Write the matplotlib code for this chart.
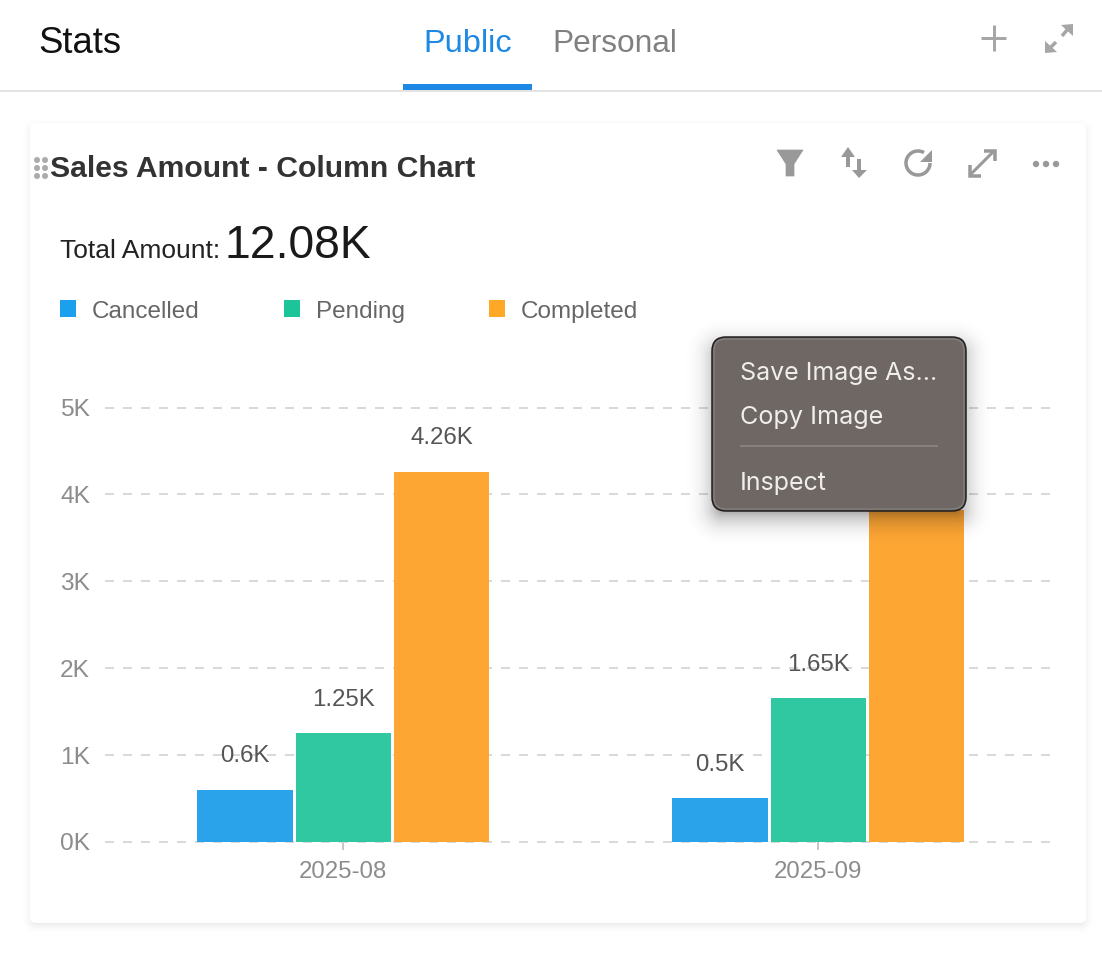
import matplotlib
matplotlib.use("Agg")
import matplotlib.pyplot as plt
import numpy as np
from matplotlib.patches import FancyBboxPatch, Polygon, Circle, Rectangle, Arc, Patch
from matplotlib.transforms import ScaledTranslation

months = ["2025-08", "2025-09"]
cancelled = [0.6, 0.5]
pending = [1.25, 1.65]
completed = [4.26, 3.82]
series_names = ["Cancelled", "Pending", "Completed"]
y_ticks = [0, 1, 2, 3, 4, 5]
y_labels = ["0K", "1K", "2K", "3K", "4K", "5K"]
bar_colors = ["#2AA3EA", "#2FC8A0", "#FDA634"]
legend_colors = ["#1AA0EC", "#1CC49A", "#FFA726"]

W, H = 1102, 954
PX = 0.72
FONT = "Liberation Sans"
plt.rcParams["font.family"] = [FONT, "DejaVu Sans"]

fig = plt.figure(figsize=(W / 100, H / 100), dpi=100, facecolor="white")


def overlay(z):
    a = fig.add_axes([0, 0, 1, 1], zorder=z)
    a.set_xlim(0, W)
    a.set_ylim(H, 0)
    a.axis("off")
    a.patch.set_alpha(0)
    return a


def rbox(a, x0, y0, x1, y1, r, **kw):
    p = FancyBboxPatch((x0, y0), x1 - x0, y1 - y0,
                       boxstyle=f"round,pad=0,rounding_size={r}", **kw)
    a.add_patch(p)
    return p


def shadow(a, x0, y0, x1, y1, inset, spread, dy, alpha):
    # soft drop shadow: alpha falls off with distance from an inset box
    bx0, bx1, by0, by1 = x0 + inset, x1 - inset, y0 + inset + dy, y1 - inset + dy
    ex0, ex1 = bx0 - spread, bx1 + spread
    ey0, ey1 = by0 - spread, by1 + spread
    xs = np.arange(ex0, ex1) + 0.5
    ys = np.arange(ey0, ey1) + 0.5
    gx, gy = np.meshgrid(xs, ys)
    dxx = np.maximum(np.maximum(bx0 - gx, gx - bx1), 0)
    dyy = np.maximum(np.maximum(by0 - gy, gy - by1), 0)
    d = np.hypot(dxx, dyy)
    img = np.zeros(d.shape + (4,))
    img[..., 3] = alpha * np.clip(1 - d / spread, 0, 1) ** 3
    a.imshow(img, extent=(ex0, ex1, ey1, ey0), aspect="auto", interpolation="bilinear")
    a.set_xlim(0, W)
    a.set_ylim(H, 0)


def line(a, xs, ys, lw, color, cap="butt"):
    a.plot(xs, ys, color=color, lw=lw * PX, solid_capstyle=cap, solid_joinstyle="miter")


def txt(a, x, y, s, px, color, weight="normal", family=FONT, ha="left", va="baseline"):
    a.text(x, y, s, fontsize=px * PX, color=color, fontweight=weight,
           family=family, ha=ha, va=va)


bg = overlay(0)
# header
txt(bg, 38, 53, "Stats", 36.5, "#111111")
txt(bg, 423, 52, "Public", 32.5, "#1E88E5")
txt(bg, 552, 52, "Personal", 31.7, "#808080")
line(bg, [0, W], [91.5, 91.5], 2, "#E3E3E3")
bg.add_patch(Rectangle((403, 85), 129, 6, facecolor="#1E88E5", edgecolor="none"))
# header icons
ICON_A = "#A6A6A6"
line(bg, [981, 1006], [39, 39], 3, ICON_A)
line(bg, [993.5, 993.5], [26, 52], 3, ICON_A)
bg.add_patch(Polygon([(1073, 25), (1073, 37), (1061, 26)], facecolor=ICON_A, edgecolor="none"))
line(bg, [1067, 1062], [31, 37], 3.5, ICON_A)
bg.add_patch(Polygon([(1045, 54), (1045, 42), (1057, 53)], facecolor=ICON_A, edgecolor="none"))
line(bg, [1051, 1056], [48, 43], 3.5, ICON_A)

# card
shadow(bg, 30, 124, 1086, 924, 6, 20, 3, 0.13)
rbox(bg, 30, 124, 1086, 924, 6, facecolor="white", edgecolor="none", zorder=3)

# grip dots
for gx in (37, 45):
    for gy in (161, 169, 177):
        bg.add_patch(Circle((gx, gy), 3, facecolor="#ABABAB", edgecolor="none", zorder=4))

txt(bg, 50, 177, "Sales Amount - Column Chart", 30.1, "#333333", weight="bold")
txt(bg, 60, 258, "Total Amount:", 26.4, "#222222")
txt(bg, 224, 258, "12.08K", 46.3, "#1A1A1A")

# card icons
ICON = "#999999"
Z = 4
bg.add_patch(Polygon([(777, 151), (803, 151), (794, 165), (794, 177), (786, 177), (786, 165)],
                     facecolor=ICON, edgecolor=ICON, lw=0.5, joinstyle="round", zorder=Z))
bg.add_patch(Polygon([(848, 148), (855, 158), (841, 158)], facecolor=ICON, edgecolor="none", zorder=Z))
bg.plot([848, 848], [157, 168], color=ICON, lw=4 * PX, solid_capstyle="butt", zorder=Z)
bg.add_patch(Polygon([(859, 179), (852, 171), (867, 171)], facecolor=ICON, edgecolor="none", zorder=Z))
bg.plot([859, 859], [160, 172], color=ICON, lw=4 * PX, solid_capstyle="butt", zorder=Z)
bg.add_patch(Arc((918, 164), 24, 24, theta1=0, theta2=300, lw=3.5 * PX, color=ICON, zorder=Z))
bg.add_patch(Polygon([(932, 151), (932, 163), (920, 163)], facecolor=ICON, edgecolor="none", zorder=Z))
bg.plot([971, 994], [175, 152], color=ICON, lw=3 * PX, solid_capstyle="butt", zorder=Z)
bg.plot([984, 995, 995], [152, 152, 162], color=ICON, lw=3.5 * PX, solid_capstyle="butt",
        solid_joinstyle="miter", zorder=Z)
bg.plot([970, 970, 981], [166, 177, 177], color=ICON, lw=3.5 * PX, solid_capstyle="butt",
        solid_joinstyle="miter", zorder=Z)
for dx in (1036, 1046, 1056):
    bg.add_patch(Circle((dx, 165), 3.2, facecolor=ICON, edgecolor="none", zorder=Z))
for t in bg.texts:
    t.set_zorder(Z)

# chart axes
x0, x1, y_top, y_bot = 105, 1050, 408.6, 842.6
ax = fig.add_axes([x0 / W, 1 - y_bot / H, (x1 - x0) / W, (y_bot - y_top) / H], zorder=1)
ax.patch.set_alpha(0)
band = 475
c0 = 343.3
ax.set_xlim((x0 - c0) / band, (x1 - c0) / band)
ax.set_ylim(0, 5)
for s in ax.spines.values():
    s.set_visible(False)
ax.set_axisbelow(True)
ax.yaxis.grid(True, color="#D9D9D9", lw=2 * PX, linestyle=(0, (4.5, 4.5)), dash_capstyle="butt",
              clip_on=False)
ax.set_yticks(y_ticks, y_labels)
ax.set_xticks(range(len(months)), months)
ax.tick_params(axis="y", length=0, pad=15 * PX, labelsize=24.5 * PX, labelcolor="#8C8C8C")
ax.tick_params(axis="x", length=8 * PX, width=2 * PX, color="#C8C8C8", pad=10 * PX,
               labelsize=24 * PX, labelcolor="#8C8C8C")
for t in ax.get_yticklabels():
    t.set_va("center_baseline")
    t.set_transform(t.get_transform() + ScaledTranslation(0, 0.8 / 100, fig.dpi_scale_trans))

step = 98.2 / band
width = 95.6 / band
for i, (vals, name) in enumerate(zip((cancelled, pending, completed), series_names)):
    pos = [m + (i - 1) * step for m in range(len(months))]
    bars = ax.bar(pos, vals, width=width, color=bar_colors[i], zorder=2)
    for b, v in zip(bars, vals):
        ax.annotate(f"{v:g}K", (b.get_x() + b.get_width() / 2, v), xytext=(0, 34.5 * PX),
                    textcoords="offset points", ha="center", va="center",
                    fontsize=24 * PX, color="#555555", zorder=3)

legend_handles = [Patch(facecolor=c, edgecolor="none", label=n)
                  for c, n in zip(legend_colors, series_names)]
fs = 24.2
leg = fig.legend(handles=legend_handles, loc="center left", ncol=3, frameon=False,
                 bbox_to_anchor=(60 / W, 1 - 312 / H), borderpad=0, borderaxespad=0,
                 handlelength=16 / fs, handleheight=16 / fs, handletextpad=16 / fs,
                 columnspacing=84 / fs, fontsize=fs * PX, labelcolor="#666666")

# context menu
fg = overlay(5)
shadow(fg, 712, 338, 966, 512, 10, 46, 8, 0.38)
rbox(fg, 712, 338, 966, 512, 14, facecolor="#6E6764", edgecolor="#1E1E1E", lw=1.5 * PX)
rbox(fg, 714, 340, 964, 510, 12, facecolor="none", edgecolor="#8B8582", lw=1 * PX)
MENU = "Inter"
txt(fg, 740, 380, "Save Image As...", 25, "#F0EEEC", family=MENU)
txt(fg, 740, 424, "Copy Image", 25.2, "#F0EEEC", family=MENU)
line(fg, [740, 938], [447, 447], 1.5, "#8F8A87")
txt(fg, 740, 490, "Inspect", 25, "#F0EEEC", family=MENU)

fig.savefig("out.png", dpi=100)
